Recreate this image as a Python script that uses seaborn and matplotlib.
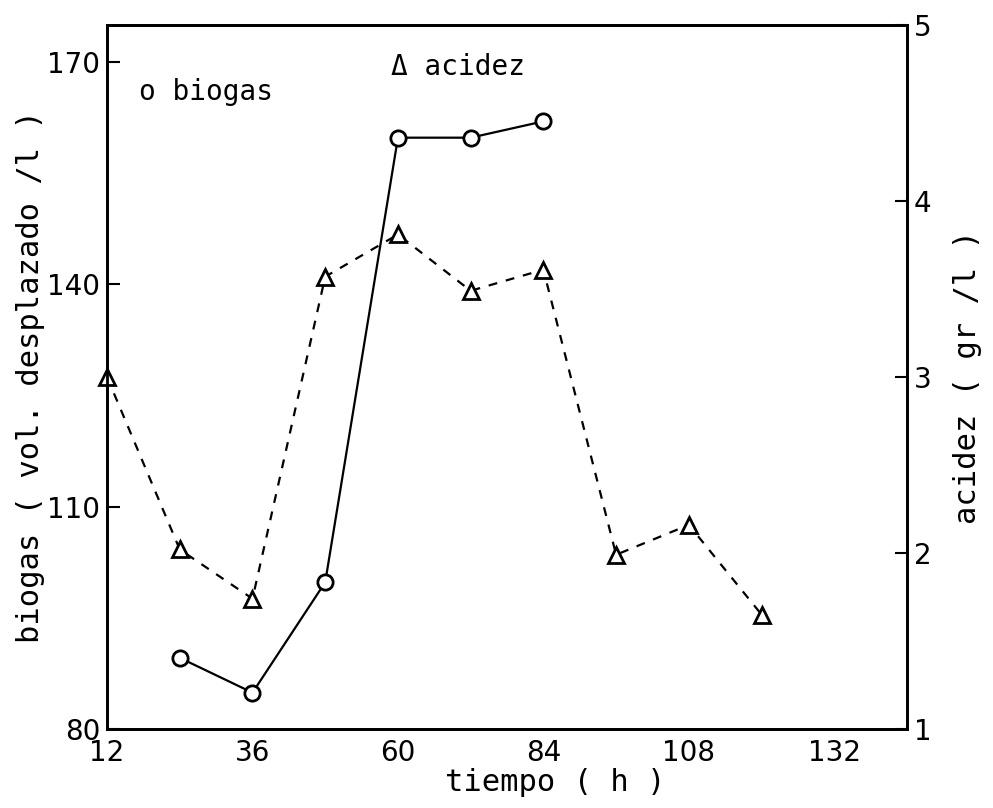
import matplotlib
matplotlib.use("Agg")
import matplotlib.pyplot as plt
import seaborn as sns
import pandas as pd

# Data
time_biogas = [24, 36, 48, 60, 72, 84]
biogas = [89.6, 84.9, 99.8, 159.8, 159.8, 162.0]
time_acidez = [12, 24, 36, 48, 60, 72, 84, 96, 108, 120]
acidez = [3.0, 2.02, 1.74, 3.57, 3.81, 3.49, 3.61, 1.99, 2.16, 1.65]
x_ticks = [12, 36, 60, 84, 108, 132]
y_left_ticks = [80, 110, 140, 170]
y_right_ticks = [1, 2, 3, 4, 5]

sns.set_theme(style="white")
plt.rcParams['font.family'] = ['DejaVu Sans']
plt.rcParams['xtick.direction'] = 'in'
plt.rcParams['ytick.direction'] = 'in'
plt.rcParams['text.color'] = 'black'
plt.rcParams['axes.labelcolor'] = 'black'
plt.rcParams['xtick.color'] = 'black'
plt.rcParams['ytick.color'] = 'black'

tick_font = 'DejaVu Sans'
label_font = 'DejaVu Sans Mono'

df_b = pd.DataFrame({"t": time_biogas, "v": biogas})
df_a = pd.DataFrame({"t": time_acidez, "v": acidez})

fig = plt.figure(figsize=(9.93, 8.08), dpi=100)
ax = fig.add_axes([0.1078, 0.0978, 0.8056, 0.8712])
ax2 = ax.twinx()

sns.lineplot(data=df_b, x="t", y="v", ax=ax, color="black", linewidth=1.6,
             marker="o", markersize=11, markerfacecolor="white",
             markeredgecolor="black", markeredgewidth=2, clip_on=False)
sns.lineplot(data=df_a, x="t", y="v", ax=ax2, color="black", linewidth=1.6,
             linestyle=(0, (4, 4)), marker="^", markersize=11,
             markerfacecolor="white", markeredgecolor="black",
             markeredgewidth=2, clip_on=False)

ax.set_xlim(12, 144)
ax.set_ylim(80, 175)
ax2.set_ylim(1, 5)

ax.set_xticks(x_ticks)
ax.set_yticks(y_left_ticks)
ax2.set_yticks(y_right_ticks)

for a in (ax, ax2):
    for s in a.spines.values():
        s.set_color("black")
        s.set_linewidth(2)
ax.tick_params(axis="both", which="both", direction="in", length=9, width=1.5,
               colors="black", labelsize=20, pad=5)
ax.tick_params(axis="x", pad=7)
ax2.tick_params(axis="y", which="both", direction="in", length=9, width=1.5,
                colors="black", labelsize=20, pad=5)
for lab in ax.get_xticklabels() + ax.get_yticklabels() + ax2.get_yticklabels():
    lab.set_fontfamily(tick_font)
    lab.set_color("black")

ax.set_xlabel("tiempo ( h )", fontsize=22, family=label_font, color="black")
ax.xaxis.set_label_coords(0.56, -0.055)
ax.set_ylabel("biogas ( vol. desplazado /l )", fontsize=22, family=label_font,
              color="black")
ax.yaxis.set_label_coords(-0.078, 0.5)
ax2.set_ylabel("acidez ( gr /l )", fontsize=22, family=label_font,
               color="black")
ax2.yaxis.label.set_rotation(90)
ax2.yaxis.set_label_coords(1.057, 0.5)

ax.text(0.04, 0.905, "o biogas", transform=ax.transAxes, fontsize=20,
        family=label_font, va="center", ha="left", color="black")
ax.text(0.355, 0.94, "\u0394 acidez", transform=ax.transAxes, fontsize=20,
        family=label_font, va="center", ha="left", color="black")

ax.grid(False)
ax2.grid(False)
fig.savefig("out.png", dpi=100, facecolor="white")
